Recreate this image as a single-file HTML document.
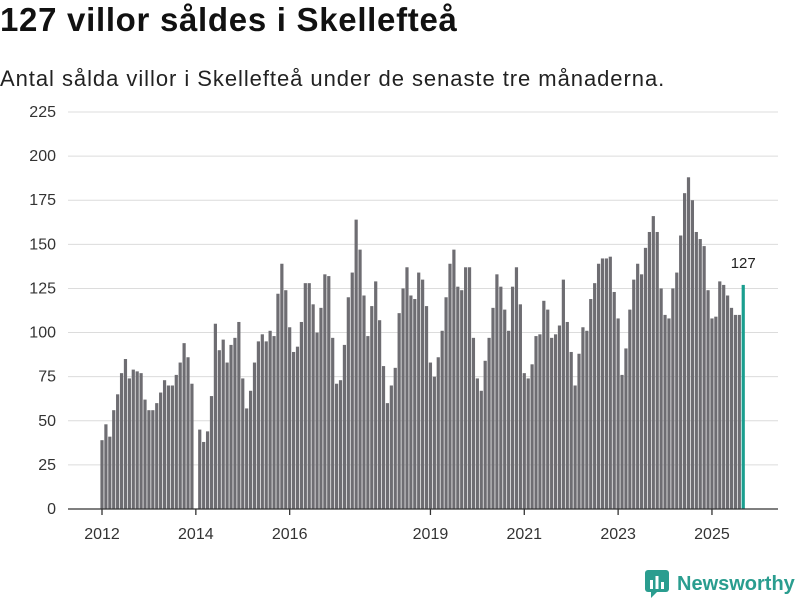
<!DOCTYPE html>
<html><head><meta charset="utf-8"><style>
body{margin:0;width:800px;height:600px;background:#fff;font-family:"Liberation Sans",sans-serif;overflow:hidden}
h1{position:absolute;left:0;top:1px;margin:0;font-size:33px;font-weight:bold;color:#111;letter-spacing:0.7px}
.sub{position:absolute;left:0;top:66px;font-size:22px;color:#222;letter-spacing:0.95px}
</style></head><body>
<h1>127 villor såldes i Skellefteå</h1>
<div class="sub">Antal sålda villor i Skellefteå under de senaste tre månaderna.</div>
<svg id="c" width="800" height="600" style="position:absolute;left:0;top:0"></svg>
<div style="position:absolute;left:645px;top:570px;display:flex;align-items:center">
<svg width="24" height="28" viewBox="0 0 24 28"><rect x="0" y="0" width="24" height="22" rx="3" fill="#2a9d8f"/><path d="M6 22 L6 28 L12 22Z" fill="#2a9d8f"/><rect x="5" y="10" width="3" height="9" fill="#fff"/><rect x="10.5" y="6" width="3" height="13" fill="#fff"/><rect x="16" y="12" width="3" height="7" fill="#fff"/></svg>
<span style="font-size:20px;font-weight:bold;color:#2a9d8f;margin-left:8px">Newsworthy</span></div>
<script>
const years=[2012,2013,2014,2015,2016,2017,2018,2019,2020,2021,2022,2023,2024,2025];
const values=[39,48,41,56,65,77,85,74,79,78,77,62,
56,56,60,66,73,70,70,76,83,94,86,71,
null,45,38,44,64,105,90,96,83,93,97,106,
74,57,67,83,95,99,95,101,98,122,139,124,
103,89,92,106,128,128,116,100,114,133,132,97,
71,73,93,120,134,164,147,121,98,115,129,107,
81,60,70,80,111,125,137,121,119,134,130,115,
83,75,86,101,120,139,147,126,124,137,137,97,
74,67,84,97,114,133,126,113,101,126,137,116,
77,74,82,98,99,118,113,97,99,104,130,106,
89,70,88,103,101,119,128,139,142,142,143,123,
108,76,91,113,130,139,133,148,157,166,157,125,
110,108,125,134,155,179,188,175,157,153,149,124,
108,109,129,127,121,114,110,110,127];
const yTicks=[0,25,50,75,100,125,150,175,200,225];
const xLabelYears=[2012,2014,2016,2019,2021,2023,2025];
const svg=document.getElementById('c');const NS='http://www.w3.org/2000/svg';
const y=v=>509-v*(397/225);
const x=i=>102+i*3.91;
function mk(t,a,p){const e=document.createElementNS(NS,t);for(const k in a)e.setAttribute(k,a[k]);(p||svg).appendChild(e);return e;}
yTicks.forEach(t=>{
 if(t>0){const g=mk('line',{x1:68,x2:778,y1:y(t),y2:y(t),stroke:'#dcdcdc','stroke-width':1});
 
 }
 const l=mk('text',{x:56,y:y(t)+5,'text-anchor':'end','font-size':16,fill:'#333','font-family':'Liberation Sans'});l.textContent=t;
 
 
});
values.forEach((v,i)=>{if(v==null)return;
 const last=i===values.length-1;
 const r=mk('rect',{x:x(i)-1.6,y:y(v),width:3.2,height:509-y(v),fill:last?'#1a9e8f':'#6e6d72'});
 
 
 if(last){const t=mk('text',{x:x(i),y:y(v)-17,'text-anchor':'middle','font-size':15,fill:'#222','font-family':'Liberation Sans'});t.textContent=v;
 
 }
});
const ax=mk('line',{x1:68,x2:778,y1:509,y2:509,stroke:'#333','stroke-width':1.3});


years.forEach((yr,k)=>{const i=k*12;
 if(!xLabelYears.includes(yr))return;
 const tk=mk('line',{x1:x(i),x2:x(i),y1:509,y2:515,stroke:'#333','stroke-width':1.3});
 
 
 const t=mk('text',{x:x(i),y:539,'text-anchor':'middle','font-size':16,fill:'#333','font-family':'Liberation Sans'});t.textContent=yr;
 
 
});
</script></body></html>
